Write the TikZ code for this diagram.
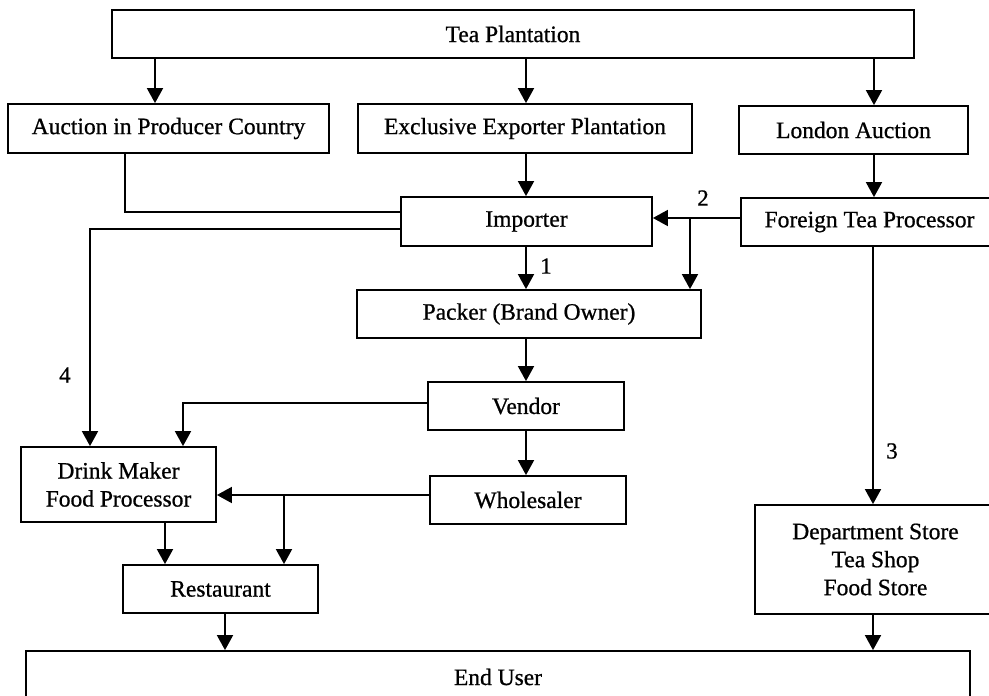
\documentclass[tikz,border=0pt]{standalone}
\usepackage{fontspec}
\setmainfont{Liberation Serif}
\newfontfamily\heavyserif[FakeBold=0.8]{Liberation Serif}
\usetikzlibrary{arrows.meta}
\begin{document}
\begin{tikzpicture}[x=1pt,y=-1pt,
  box/.style={draw, line width=1.8pt, inner sep=0pt, align=center,
    font=\heavyserif\fontsize{23.5}{28}\selectfont},
  conn/.style={line width=1.8pt},
  arr/.style={conn, -{Triangle[length=15pt,width=16pt]}},
  lbl/.style={font=\heavyserif\fontsize{23}{26}\selectfont, inner sep=0pt}]
\useasboundingbox (0,0) rectangle (989,696);
\clip (0,0) rectangle (989,696);
% boxes
\node[box, minimum width=802pt, minimum height=48pt] (tea) at (513,34) {Tea Plantation};
\node[box, minimum width=321pt, minimum height=49pt] (apc) at (168.5,128.5) {Auction in Producer Country};
\node[box, minimum width=334pt, minimum height=49pt] (eep) at (525,128.5) {Exclusive Exporter Plantation};
\node[box, minimum width=229pt, minimum height=48pt] (lon) at (853.5,130) {London Auction};
\node[box, minimum width=251pt, minimum height=49pt] (imp) at (526.5,221.5) {Importer};
\node[box, minimum width=257pt, minimum height=48pt] (ftp) at (869.5,222) {Foreign Tea Processor};
\node[box, minimum width=344pt, minimum height=48pt] (pack) at (529,314) {Packer (Brand Owner)};
\node[box, minimum width=196pt, minimum height=48pt] (vend) at (526,406) {Vendor};
\node[box, minimum width=196pt, minimum height=48pt] (whole) at (528,500) {Wholesaler};
\node[box, minimum width=195pt, minimum height=75pt] (drink) at (118.5,484.5) {Drink Maker\\Food Processor};
\node[box, minimum width=195pt, minimum height=48pt] (rest) at (220.5,589) {Restaurant};
\node[box, minimum width=241pt, minimum height=109pt] (dept) at (875.5,559.5) {Department Store\\Tea Shop\\Food Store};
\node[box, minimum width=944pt, minimum height=52pt] (end) at (498,677) {End User};
% helper coordinates
\coordinate (b2) at (690,218);
\coordinate (b4) at (284,495);
% connectors
\draw[arr] (155,0 |- tea.south) -- (155,0 |- apc.north);
\draw[arr] (526,0 |- tea.south) -- (526,0 |- eep.north);
\draw[arr] (874,0 |- tea.south) -- (874,0 |- lon.north);
\draw[arr] (526,0 |- eep.south) -- (526,0 |- imp.north);
\draw[arr] (874,0 |- lon.south) -- (874,0 |- ftp.north);
\draw[conn] (125,0 |- apc.south) -- (125,212) -- (imp.west |- 0,212);
\draw[arr] (imp.west |- 0,229) -- (90,229) -- (90,0 |- drink.north);
\draw[arr] (ftp.west |- b2) -- (imp.east |- b2);
\draw[arr] (b2) -- (b2 |- pack.north);
\draw[arr] (526,0 |- imp.south) -- (526,0 |- pack.north);
\draw[arr] (526,0 |- pack.south) -- (526,0 |- vend.north);
\draw[arr] (526,0 |- vend.south) -- (526,0 |- whole.north);
\draw[arr] (vend.west |- 0,403) -- (183,403) -- (183,0 |- drink.north);
\draw[arr] (whole.west |- b4) -- (drink.east |- b4);
\draw[arr] (b4) -- (b4 |- rest.north);
\draw[arr] (165,0 |- drink.south) -- (165,0 |- rest.north);
\draw[arr] (225,0 |- rest.south) -- (225,0 |- end.north);
\draw[arr] (873,0 |- ftp.south) -- (873,0 |- dept.north);
\draw[arr] (873,0 |- dept.south) -- (873,0 |- end.north);
% labels
\node[lbl] (l1) at (546,266) {1};
\node[lbl] (l2) at (703,198) {2};
\node[lbl] (l3) at (892,451) {3};
\node[lbl] (l4) at (65,375) {4};
\end{tikzpicture}
\end{document}
